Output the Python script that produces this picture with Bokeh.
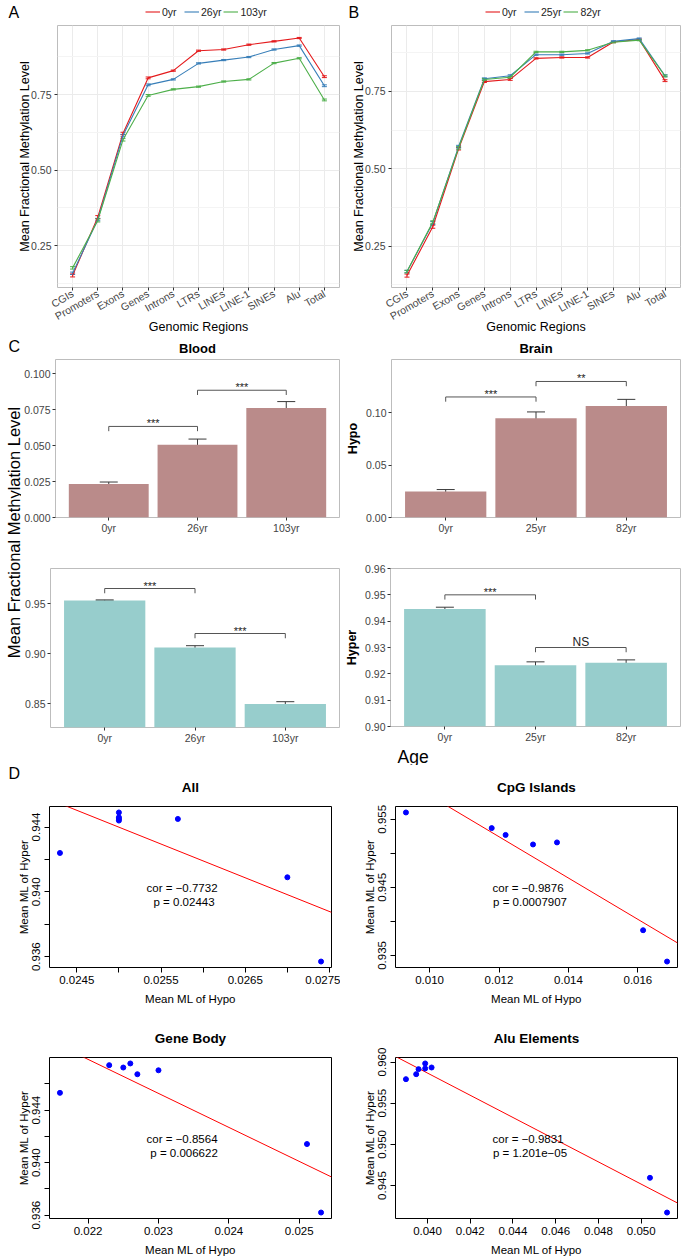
import math
from bokeh.plotting import figure
from bokeh.layouts import row, column
from bokeh.models import (Range1d, FixedTicker, Label, Legend, LegendItem, Whisker,
                          TeeHead, ColumnDataSource, NumeralTickFormatter)
from bokeh.core.properties import value
from bokeh.embed import file_html
from bokeh.resources import INLINE

FONT = "Liberation Sans"

# ---------------- data ----------------
regions = ["CGIs", "Promoters", "Exons", "Genes", "Introns", "LTRs",
           "LINEs", "LINE-1", "SINEs", "Alu", "Total"]

# Panel A (blood, 0 / 26 / 103 yr)
a_ages = ["0yr", "26yr", "103yr"]
a_0yr = [0.151, 0.344, 0.621, 0.805, 0.829, 0.895, 0.899, 0.915, 0.926, 0.937, 0.809]
a_26yr = [0.158, 0.336, 0.614, 0.782, 0.800, 0.853, 0.864, 0.874, 0.899, 0.912, 0.779]
a_103yr = [0.176, 0.333, 0.600, 0.747, 0.767, 0.776, 0.793, 0.800, 0.854, 0.870, 0.732]
a_se_0yr = [0.005, 0.005, 0.004, 0.003, 0.002, 0.002, 0.002, 0.002, 0.002, 0.002, 0.003]
a_se_26yr = [0.004, 0.004, 0.004, 0.003, 0.002, 0.002, 0.002, 0.002, 0.002, 0.002, 0.003]
a_se_103yr = [0.004, 0.005, 0.004, 0.003, 0.002, 0.002, 0.002, 0.002, 0.002, 0.002, 0.003]

# Panel B (brain, 0 / 25 / 82 yr)
b_ages = ["0yr", "25yr", "82yr"]
b_0yr = [0.155, 0.313, 0.565, 0.782, 0.789, 0.857, 0.860, 0.860, 0.910, 0.918, 0.785]
b_25yr = [0.168, 0.325, 0.572, 0.791, 0.801, 0.869, 0.869, 0.873, 0.912, 0.921, 0.801]
b_82yr = [0.168, 0.328, 0.568, 0.789, 0.796, 0.878, 0.878, 0.883, 0.909, 0.916, 0.800]
b_se_0yr = [0.005, 0.005, 0.004, 0.003, 0.003, 0.002, 0.002, 0.002, 0.002, 0.002, 0.003]
b_se_25yr = [0.004, 0.005, 0.004, 0.003, 0.003, 0.002, 0.002, 0.002, 0.002, 0.002, 0.003]
b_se_82yr = [0.004, 0.004, 0.004, 0.003, 0.003, 0.002, 0.002, 0.002, 0.002, 0.002, 0.003]

ab_yticks = [0.25, 0.50, 0.75]
ab_yminor = [0.125, 0.375, 0.625, 0.875]

# Panel C bars
blood_hypo = [0.0233, 0.0506, 0.0762]
blood_hypo_se = [0.0014, 0.0040, 0.0045]
brain_hypo = [0.0248, 0.0949, 0.1065]
brain_hypo_se = [0.0019, 0.0060, 0.0064]
blood_hyper = [0.9531, 0.9061, 0.8496]
blood_hyper_se = [0.0005, 0.0017, 0.0022]
brain_hyper = [0.9446, 0.9233, 0.9242]
brain_hyper_se = [0.0007, 0.00125, 0.0011]

# significance brackets: (from, to, height, label)
blood_hypo_sig = [(0, 1, 0.0634, "***"), (1, 2, 0.0886, "***")]
brain_hypo_sig = [(0, 1, 0.1152, "***"), (1, 2, 0.1300, "**")]
blood_hyper_sig = [(0, 1, 0.9650, "***"), (1, 2, 0.9200, "***")]
brain_hyper_sig = [(0, 1, 0.9500, "***"), (1, 2, 0.9300, "NS")]

blood_hypo_ticks = [0.0, 0.025, 0.05, 0.075, 0.1]
brain_hypo_ticks = [0.0, 0.05, 0.10]
blood_hyper_ticks = [0.85, 0.90, 0.95]
brain_hyper_ticks = [0.90, 0.91, 0.92, 0.93, 0.94, 0.95, 0.96]

# Panel D scatter (x = mean ML of hypo, y = mean ML of hyper)
all_hypo = [0.0243, 0.0250, 0.0250, 0.0250, 0.0250, 0.0257, 0.0270, 0.0274]
all_hyper = [0.9424, 0.9449, 0.9446, 0.9445, 0.9444, 0.9445, 0.9409, 0.9357]
all_fit = (0.99605, -2.0823)
all_stats = ("cor = \u22120.7732", "p = 0.02443")
all_xticks = [0.0245, 0.0255, 0.0265, 0.0275]
all_xminor = [0.025, 0.026, 0.027]
all_yticks = [0.936, 0.940, 0.944]
all_yminor = [0.938, 0.942]

cpg_hypo = [0.00932, 0.01179, 0.01219, 0.01298, 0.01367, 0.01615, 0.01684]
cpg_hyper = [0.9560, 0.9537, 0.9527, 0.9513, 0.9516, 0.9387, 0.9341]
cpg_fit = (0.98885, -3.0346)
cpg_stats = ("cor = \u22120.9876", "p = 0.0007907")
cpg_xticks = [0.010, 0.012, 0.014, 0.016]
cpg_xminor = []
cpg_yticks = [0.935, 0.945, 0.955]
cpg_yminor = [0.940, 0.950]

gene_hypo = [0.02160, 0.02230, 0.02250, 0.02260, 0.02270, 0.02300, 0.02511, 0.02531]
gene_hyper = [0.94532, 0.94743, 0.94725, 0.94756, 0.94674, 0.94704, 0.94142, 0.93620]
gene_fit = (1.00487, -2.5909)
gene_stats = ("cor = \u22120.8564", "p = 0.006622")
gene_xticks = [0.022, 0.023, 0.024, 0.025]
gene_xminor = []
gene_yticks = [0.936, 0.940, 0.944]
gene_yminor = [0.938, 0.942, 0.946]

alu_hypo = [0.03899, 0.03947, 0.03958, 0.03989, 0.03989, 0.04019, 0.05041, 0.05121]
alu_hyper = [0.95792, 0.95853, 0.95914, 0.95983, 0.95922, 0.95934, 0.94594, 0.94172]
alu_fit = (1.01262, -1.349)
alu_stats = ("cor = \u22120.9831", "p = 1.201e\u221205")
alu_xticks = [0.040, 0.042, 0.044, 0.046, 0.048, 0.050]
alu_xminor = []
alu_yticks = [0.945, 0.950, 0.955, 0.960]
alu_yminor = []

# ---------------- style / layout ----------------
COL3 = ["#E41A1C", "#377EB8", "#4DAF4A"]
HYPO_C = "#BA8B8A"
HYPER_C = "#97CDCC"
TICK_C = "#333333"
LAB_C = "#444444"
FRAME_C = "#BDBDBD"
GRID_C = "#EBEBEB"

LW, RW = 340, 341
LC = 21


def new_fig(w, h, bl, br, bt, bb, xr, yr):
    p = figure(width=w, height=h, x_range=Range1d(*xr), y_range=Range1d(*yr),
               output_backend="svg", toolbar_location=None,
               min_border_left=bl, min_border_right=br,
               min_border_top=bt, min_border_bottom=bb)
    p.background_fill_color = "white"
    p.border_fill_color = "white"
    return p


def strip(w, h):
    s = figure(width=w, height=h, x_range=Range1d(0, 1), y_range=Range1d(0, 1),
               output_backend="svg", toolbar_location=None,
               x_axis_location=None, y_axis_location=None, min_border=0)
    s.outline_line_color = None
    s.grid.visible = False
    s.background_fill_color = "white"
    s.border_fill_color = "white"
    return s


def label(p, x, y, text, size, align="center", baseline="middle", style="normal",
          angle=0.0, color="black"):
    p.add_layout(Label(x=x, y=y, x_units="screen", y_units="screen", text=text,
                       text_font=FONT, text_font_size=size, text_font_style=style,
                       text_align=align, text_baseline=baseline, angle=angle,
                       text_color=color))


def gg_axes(p):
    for ax in p.axis:
        ax.axis_line_color = None
        ax.major_tick_in = 0
        ax.major_tick_out = 3
        ax.major_tick_line_color = TICK_C
        ax.minor_tick_line_color = None
        ax.major_label_text_font = FONT
        ax.major_label_text_font_size = "10.5px"
        ax.major_label_text_color = LAB_C
        ax.major_label_standoff = 2
        ax.axis_label_text_font = FONT
        ax.axis_label_text_font_style = "normal"
        ax.axis_label_text_color = "black"
    p.outline_line_color = FRAME_C
    p.outline_line_width = 1


def header_strip(w, tag, ages, legend_x):
    s = strip(w, 23)
    items = []
    for age, col in zip(ages, COL3):
        # legend key only: drawn outside the strip's visible range
        r = s.line(x=[-3, -2], y=[-3, -2], line_color=col, line_width=1.1)
        items.append(LegendItem(label=age, renderers=[r]))
    s.add_layout(Legend(items=items, orientation="horizontal", location=(legend_x, 4),
                        glyph_width=15, glyph_height=15, label_standoff=2, spacing=2,
                        padding=0, margin=0, border_line_color=None,
                        background_fill_alpha=0.0, label_text_font=FONT,
                        label_text_font_size="10.5px", label_text_color="#222222",
                        label_height=15))
    label(s, 8, 11, tag, "16px", align="left")
    return s


def line_panel(w, bl, series, ses, yr):
    h, br, bt, bb = 314, 1, 2, 50
    xs = list(range(1, len(regions) + 1))
    p = new_fig(w, h, bl, br, bt, bb, (0.4, len(regions) + 0.6), yr)
    p.xgrid.grid_line_color = GRID_C
    p.ygrid.grid_line_color = GRID_C
    p.ygrid.minor_grid_line_color = "#F4F4F4"
    for vals, se, col in zip(series, ses, COL3):
        src = ColumnDataSource(dict(x=xs, y=vals,
                                    lo=[v - s for v, s in zip(vals, se)],
                                    hi=[v + s for v, s in zip(vals, se)]))
        p.line("x", "y", source=src, line_color=col, line_width=1.1)
        p.add_layout(Whisker(source=src, base="x", lower="lo", upper="hi",
                             dimension="height", line_color=col, line_width=1,
                             upper_head=TeeHead(size=5, line_color=col, line_width=1),
                             lower_head=TeeHead(size=5, line_color=col, line_width=1)))
    gg_axes(p)
    p.xaxis.ticker = FixedTicker(ticks=xs)
    p.xaxis.major_label_overrides = {x: r for x, r in zip(xs, regions)}
    p.xaxis.major_label_orientation = math.pi / 6
    p.xaxis.major_label_standoff = 2
    p.xaxis.axis_label = "Genomic Regions"
    p.xaxis.axis_label_text_font_size = "12.5px"
    p.xaxis.axis_label_standoff = -10
    p.yaxis.ticker = FixedTicker(ticks=ab_yticks, minor_ticks=ab_yminor)
    p.yaxis.formatter = NumeralTickFormatter(format="0.00")
    p.yaxis.axis_label = "Mean Fractional Methylation Level"
    p.yaxis.axis_label_text_font_size = "12.5px"
    p.yaxis.axis_label_standoff = -4
    return p


def bar_panel(w, h, bl, br, bt, bb, ages, vals, ses, sigs, yr, yticks, fmt, color,
              ylab=None):
    xs = list(range(1, len(ages) + 1))
    p = new_fig(w, h, bl, br, bt, bb, (0.4, len(ages) + 0.6), yr)
    p.grid.visible = False
    src = ColumnDataSource(dict(x=xs, top=vals,
                                lo=[v - s for v, s in zip(vals, ses)],
                                hi=[v + s for v, s in zip(vals, ses)]))
    p.vbar(x="x", top="top", bottom=0, width=0.9, source=src,
           fill_color=color, line_color=None)
    p.add_layout(Whisker(source=src, base="x", lower="lo", upper="hi",
                         dimension="height", line_color="#3A3A3A", line_width=1,
                         upper_head=TeeHead(size=18, line_color="#3A3A3A", line_width=1),
                         lower_head=TeeHead(size=18, line_color="#3A3A3A", line_width=1)))
    drop = 0.03 * (yr[1] - yr[0])
    for i, j, y, lab in sigs:
        p.line([xs[i], xs[i], xs[j], xs[j]], [y - drop, y, y, y - drop],
               line_color="#555555", line_width=1)
        ns = lab == "NS"
        p.text(x=[(xs[i] + xs[j]) / 2], y=[y], text=[lab], text_align="center",
               text_baseline="alphabetic", y_offset=-6 if ns else -3,
               text_font=value(FONT), text_font_size="12px" if ns else "11px",
               text_color="#222222")
    gg_axes(p)
    p.xaxis.ticker = FixedTicker(ticks=xs)
    p.xaxis.major_label_overrides = {x: a for x, a in zip(xs, ages)}
    p.xaxis.major_label_standoff = 1
    p.yaxis.ticker = FixedTicker(ticks=yticks)
    p.yaxis.formatter = NumeralTickFormatter(format=fmt)
    if ylab:
        p.yaxis.axis_label = ylab
        p.yaxis.axis_label_text_font_style = "bold"
        p.yaxis.axis_label_text_font_size = "12.5px"
        p.yaxis.axis_label_standoff = 3
    return p


def scatter_panel(w, h, bl, br, bt, bb, xs, ys, fit, xt, xm, yt, ym, xfmt, yfmt, stats):
    fw, fh = w - bl - br, h - bt - bb

    def lim(v):
        lo, hi = min(v), max(v)
        d = 0.04 * (hi - lo)
        return lo - d, hi + d

    x0, x1 = lim(xs)
    y0, y1 = lim(ys)
    p = new_fig(w, h, bl, br, bt, bb, (x0, x1), (y0, y1))
    p.grid.visible = False
    b, m = fit
    p.line([x0, x1], [b + m * x0, b + m * x1], line_color="#FF0000", line_width=1)
    p.scatter(xs, ys, size=5, fill_color="#0000FF", line_color="#0000FF")
    for ax in p.axis:
        ax.axis_line_color = None
        ax.major_tick_in = 0
        ax.major_tick_out = 5
        ax.minor_tick_in = 0
        ax.minor_tick_out = 5
        ax.major_tick_line_color = "black"
        ax.minor_tick_line_color = "black"
        ax.major_label_text_font = FONT
        ax.major_label_text_font_size = "11.5px"
        ax.major_label_text_color = "black"
        ax.axis_label_text_font = FONT
        ax.axis_label_text_font_size = "11.5px"
        ax.axis_label_text_font_style = "normal"
        ax.axis_label_text_color = "black"
    p.xaxis.ticker = FixedTicker(ticks=xt, minor_ticks=xm)
    p.yaxis.ticker = FixedTicker(ticks=yt, minor_ticks=ym)
    p.xaxis.formatter = NumeralTickFormatter(format=xfmt)
    p.yaxis.formatter = NumeralTickFormatter(format=yfmt)
    p.yaxis.major_label_orientation = "vertical"
    p.xaxis.major_label_standoff = 3
    p.yaxis.major_label_standoff = 4
    p.xaxis.axis_label = "Mean ML of Hypo"
    p.yaxis.axis_label = "Mean ML of Hyper"
    p.xaxis.axis_label_standoff = 6
    p.yaxis.axis_label_standoff = 0
    p.outline_line_color = "black"
    p.outline_line_width = 1
    label(p, 0.47 * fw, 0.45 * fh + 7, stats[0], "11.5px")
    label(p, 0.47 * fw + 2, 0.45 * fh - 7, stats[1], "11.5px")
    return p


def title_strip(w, h, x, y, text, tag=None, tag_y=None):
    s = strip(w, h)
    label(s, x, y, text, "13.5px", style="bold")
    if tag:
        label(s, 8, tag_y, tag, "16px", align="left")
    return s


# ---------------- build ----------------
# Row A / B
sA = header_strip(LW, "A", a_ages, 145)
sB = header_strip(RW, "B", b_ages, 145)
pA = line_panel(LW, 57, [a_0yr, a_26yr, a_103yr], [a_se_0yr, a_se_26yr, a_se_103yr],
                (0.111, 0.9785))
pB = line_panel(RW, 51, [b_0yr, b_25yr, b_82yr], [b_se_0yr, b_se_25yr, b_se_82yr],
                (0.1165, 0.9633))

# Panel C
sC1 = strip(LW - LC, 20)
label(sC1, 34 + 142, 8.7, "Blood", "13px", style="bold")
sC2 = strip(RW, 20)
label(sC2, 51 + 144.5, 8.7, "Brain", "13px", style="bold")
c1 = bar_panel(LW - LC, 188, 34, 1, 2, 28, a_ages, blood_hypo, blood_hypo_se,
               blood_hypo_sig, (0.0, 0.110), blood_hypo_ticks, "0.000", HYPO_C)
c2 = bar_panel(RW, 188, 51, 1, 2, 28, b_ages, brain_hypo, brain_hypo_se,
               brain_hypo_sig, (0.0, 0.151), brain_hypo_ticks, "0.00", HYPO_C,
               ylab="Hypo")
c3 = bar_panel(LW - LC, 220, 29, 1, 23, 38, a_ages, blood_hyper, blood_hyper_se,
               blood_hyper_sig, (0.826, 0.985), blood_hyper_ticks, "0.00", HYPER_C)
c4 = bar_panel(RW, 200, 50, 1, 23, 18, b_ages, brain_hyper, brain_hyper_se,
               brain_hyper_sig, (0.90, 0.96), brain_hyper_ticks, "0.00", HYPER_C,
               ylab="Hyper")
sAge = strip(RW, 20)
label(sAge, 7, 9, "Age", "17.5px", align="left")

LC_H = 20 + 188 + 220
labcol = strip(LC, LC_H)
label(labcol, 13, 233, "Mean Fractional Methylation Level", "16.5px", angle=math.pi / 2)
label(labcol, 8, LC_H - 9, "C", "16px", align="left")

# Panel D
sD1 = title_strip(LW, 38, 49 + 141, 16.5, "All", tag="D", tag_y=30)
sD2 = title_strip(RW, 38, 55 + 141, 16.5, "CpG Islands")
d1 = scatter_panel(LW, 207, 49, 9, 3, 43, all_hypo, all_hyper, all_fit,
                   all_xticks, all_xminor, all_yticks, all_yminor, "0.0000", "0.000",
                   all_stats)
d2 = scatter_panel(RW, 207, 55, 4, 3, 43, cpg_hypo, cpg_hyper, cpg_fit,
                   cpg_xticks, cpg_xminor, cpg_yticks, cpg_yminor, "0.000", "0.000",
                   cpg_stats)
sD3 = title_strip(LW, 37, 49 + 141, 9, "Gene Body")
sD4 = title_strip(RW, 37, 55 + 141, 9, "Alu Elements")
d3 = scatter_panel(LW, 212, 49, 9, 10, 41, gene_hypo, gene_hyper, gene_fit,
                   gene_xticks, gene_xminor, gene_yticks, gene_yminor, "0.000", "0.000",
                   gene_stats)
d4 = scatter_panel(RW, 212, 55, 4, 10, 41, alu_hypo, alu_hyper, alu_fit,
                   alu_xticks, alu_xminor, alu_yticks, alu_yminor, "0.000", "0.000",
                   alu_stats)

layout = column(
    row(sA, sB),
    row(pA, pB),
    row(labcol, column(row(sC1, sC2), row(c1, c2), row(c3, column(c4, sAge)))),
    row(sD1, sD2),
    row(d1, d2),
    row(sD3, sD4),
    row(d3, d4),
)

open("out.html", "w").write(file_html(layout, INLINE))
